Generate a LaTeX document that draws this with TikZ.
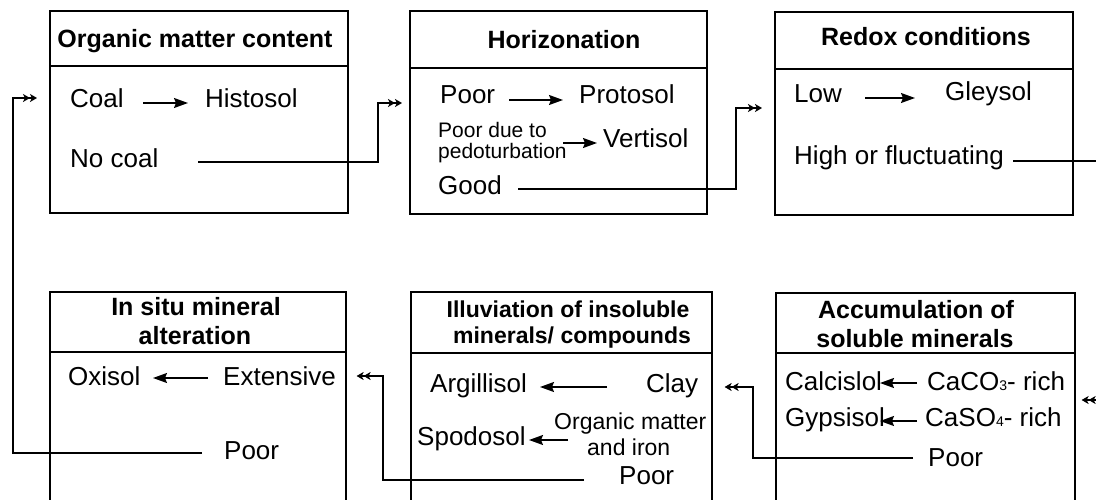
\documentclass[tikz,border=0pt]{standalone}
\usepackage{fontspec}
\setmainfont{Liberation Sans}
\usetikzlibrary{arrows.meta,calc}
\begin{document}
\begin{tikzpicture}[x=1pt,y=-1pt,
  box/.style={draw, line width=1.6pt, inner sep=0pt, anchor=north west},
  sepline/.style={line width=1.6pt},
  txt/.style={inner sep=0pt, anchor=base west, font=\fontsize{26}{30}\selectfont},
  txtsm/.style={inner sep=0pt, anchor=base west, font=\fontsize{21}{25}\selectfont},
  txtmd/.style={inner sep=0pt, anchor=base west, font=\fontsize{23}{27}\selectfont},
  ttl/.style={inner sep=0pt, anchor=base, font=\fontsize{25}{30}\selectfont\bfseries},
  ttlmd/.style={inner sep=0pt, anchor=base, font=\fontsize{23}{27}\selectfont\bfseries},
  inarr/.style={line width=1.5pt, -{Stealth[length=14pt,width=10pt,inset=2pt]}},
  conn/.style={line width=1.3pt, -{Stealth[length=7pt,width=8pt,inset=2pt]Stealth[length=7pt,width=8pt,inset=2pt]}}]
\clip (0,0) rectangle (1096,499);
\fill[white] (0,0) rectangle (1096,499);

% ---------- boxes ----------
\node[box, minimum width=298pt, minimum height=202pt] (b1) at (49,10) {};
\node[box, minimum width=297pt, minimum height=203pt] (b2) at (409,10) {};
\node[box, minimum width=298pt, minimum height=203pt] (b3) at (774,11) {};
\node[box, minimum width=296pt, minimum height=240pt] (b4) at (49,291) {};
\node[box, minimum width=301pt, minimum height=240pt] (b5) at (410,291) {};
\node[box, minimum width=299pt, minimum height=240pt] (b6) at (775,292) {};

\draw[sepline] (b1.north west |- 0,66) -- (b1.north east |- 0,66);
\draw[sepline] (b2.north west |- 0,68) -- (b2.north east |- 0,68);
\draw[sepline] (b3.north west |- 0,69) -- (b3.north east |- 0,69);
\draw[sepline] (b4.north west |- 0,352) -- (b4.north east |- 0,352);
\draw[sepline] (b5.north west |- 0,353) -- (b5.north east |- 0,353);
\draw[sepline] (b6.north west |- 0,353) -- (b6.north east |- 0,353);

% ---------- titles ----------
\node[ttl] (t1) at (195,47) {Organic matter content};
\node[ttl] (t2) at (564,48) {Horizonation};
\node[ttl] (t3) at (926,45) {Redox conditions};
\node[ttl] (t4a) at (196,315) {In situ mineral};
\node[ttl] (t4b) at (195,344) {alteration};
\node[ttlmd] (t5a) at (568,317) {Illuviation of insoluble};
\node[ttlmd] (t5b) at (572,343) {minerals/ compounds};
\node[ttl] (t6a) at (916,318) {Accumulation of};
\node[ttl] (t6b) at (915,347) {soluble minerals};

% ---------- box 1 ----------
\node[txt] (coal) at (70,107) {Coal};
\node[txt] (histosol) at (205,107) {Histosol};
\node[txt] (nocoal) at (70,167) {No coal};
\draw[inarr] ($(coal.base west)+(73,-4)$) -- ($(histosol.base west)+(-17,-4)$);

% ---------- box 2 ----------
\node[txt] (poor2) at (440,103) {Poor};
\node[txt] (protosol) at (579,103) {Protosol};
\node[txtsm] (poordue) at (438,137) {Poor due to};
\node[txtsm] (pedo) at (438,158) {pedoturbation};
\node[txt] (vertisol) at (603,147) {Vertisol};
\node[txt] (good) at (438,194) {Good};
\draw[inarr] ($(poor2.base west)+(69,-3)$) -- ($(protosol.base west)+(-16,-3)$);
\draw[inarr] ($(vertisol.base west)+(-40,-4)$) -- ($(vertisol.base west)+(-6,-4)$);

% ---------- box 3 ----------
\node[txt] (low) at (794,102) {Low};
\node[txt] (gleysol) at (945,100) {Gleysol};
\node[txt] (hof) at (794,164) {High or fluctuating};
\draw[inarr] ($(low.base west)+(71,-4)$) -- ($(gleysol.base west)+(-30,-2)$);

% ---------- box 4 ----------
\node[txt] (oxisol) at (68,385) {Oxisol};
\node[txt] (extensive) at (223,385) {Extensive};
\node[txt] (poor4) at (224,459) {Poor};
\draw[inarr] ($(extensive.base west)+(-15,-7)$) -- ($(oxisol.base west)+(85,-7)$);

% ---------- box 5 ----------
\node[txt] (argillisol) at (430,392) {Argillisol};
\node[txt] (clay) at (646,392) {Clay};
\node[txtmd] (orgm) at (554,429) {Organic matter};
\node[txtmd] (andiron) at (587,455) {and iron};
\node[txt] (spodosol) at (417,445) {Spodosol};
\node[txt] (poor5) at (619,484) {Poor};
\draw[inarr] ($(clay.base west)+(-39,-5)$) -- ($(argillisol.base west)+(110,-5)$);
\draw[inarr] ($(orgm.base west)+(14,11)$) -- ($(spodosol.base west)+(112,-5)$);

% ---------- box 6 ----------
\node[txt] (calcislol) at (785,390) {Calcislol};
\node[txt] (caco) at (927,390) {CaCO{\fontsize{14}{14}\selectfont 3}- rich};
\node[txt] (gypsisol) at (785,426) {Gypsisol};
\node[txt] (caso) at (925,426) {CaSO{\fontsize{14}{14}\selectfont 4}- rich};
\node[txt] (poor6) at (928,466) {Poor};
\draw[inarr] ($(caco.base west)+(-10,-7)$) -- ($(calcislol.base west)+(95,-7)$);
\draw[inarr] ($(caso.base west)+(-8,-5)$) -- ($(gypsisol.base west)+(95,-5)$);

% ---------- connectors ----------
\coordinate (s1) at (198,162);
\draw[conn] (s1) -- (378,162) -- (378,103) -- ($(b2.north west)+(-7,93)$);
\coordinate (s2) at (518,189);
\draw[conn] (s2) -- (736,189) -- (736,108) -- ($(b3.north west)+(-12,97)$);
\coordinate (s3) at (1013,161);
\draw[conn] (s3) -- (1110,161) -- (1110,400) -- ($(b6.north east)+(6,108)$);
\coordinate (s4) at (913,458);
\draw[conn] (s4) -- (753,458) -- (753,387) -- ($(b5.north east)+(12,96)$);
\coordinate (s5) at (584,480);
\draw[conn] (s5) -- (383,480) -- (383,376) -- ($(b4.north east)+(10,85)$);
\coordinate (s6) at (202,453);
\draw[conn] (s6) -- (13,453) -- (13,98) -- ($(b1.north west)+(-12,88)$);
\end{tikzpicture}
\end{document}
